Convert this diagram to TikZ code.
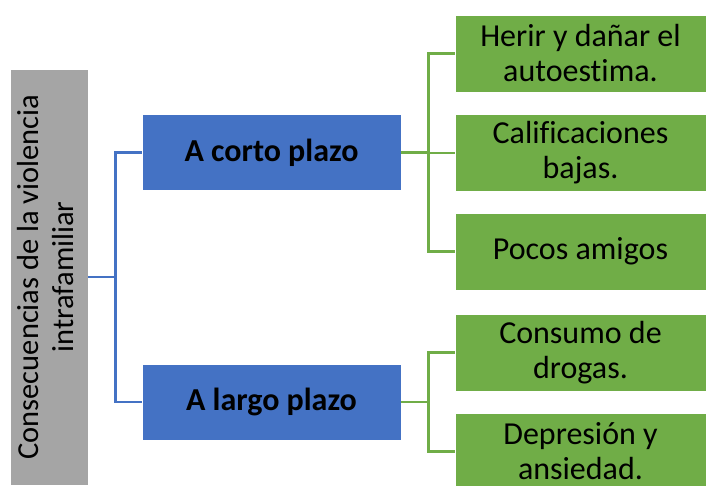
\documentclass[tikz,border=0pt]{standalone}
\usepackage{fontspec}
\setmainfont[Ligatures=NoCommon]{Carlito}
\usepackage{xcolor}
\usepackage{tikz}
\usetikzlibrary{calc}
\definecolor{boxgray}{HTML}{A5A5A5}
\definecolor{boxblue}{HTML}{4472C4}
\definecolor{boxgreen}{HTML}{70AD47}
\tikzset{
  causebox/.style={fill=boxgray, draw=white, line width=.8pt, minimum width=78pt, minimum height=416pt, inner sep=0pt, align=center, font=\fontsize{30.5}{35}\selectfont},
  termbox/.style={fill=boxblue, draw=white, line width=.8pt, minimum width=259pt, minimum height=76pt, inner sep=0pt, font=\fontsize{32}{35}\selectfont\bfseries},
  effectbox/.style={fill=boxgreen, draw=white, line width=.8pt, minimum width=251pt, minimum height=77pt, inner sep=0pt, align=center, font=\fontsize{32}{35}\selectfont},
  blueline/.style={boxblue, line width=2.3pt},
  greenline/.style={boxgreen, line width=2.3pt}
}

\begin{document}
\begin{tikzpicture}[x=1pt, y=-1pt]
\useasboundingbox (0,0) rectangle (706,485);

\node[causebox] (cause) at (49,277) {\rotatebox{90}{\begin{tabular}{@{}c@{}}Consecuencias de la violencia\\intrafamiliar\end{tabular}}};

\node[termbox] (corto) at (271.5,152.5) {A corto plazo};
\node[termbox] (largo) at (271.5,402) {A largo plazo};

\foreach \name/\y/\txt in {herir/53.5/{Herir y dañar el\\autoestima.}, notas/153/{Calificaciones\\bajas.}, amigos/251.5/{Pocos amigos}, drogas/352.5/{Consumo de\\drogas.}, depresion/451.5/{Depresión y\\ansiedad.}} {
  \node[effectbox] (\name) at (580.5,\y) {\txt};
}

% blue branches
\draw[blueline] (cause.east) -- ++(27,0) coordinate (bsplit);
\draw[blueline] (bsplit) |- (corto.west);
\draw[blueline] (bsplit) |- (largo.west);

% green branches
\draw[greenline] (corto.east) -- ++(27,0) coordinate (csplit);
\draw[greenline] (csplit) |- (herir.west);
\draw[greenline] (csplit) |- (notas.west);
\draw[greenline] (csplit) |- (amigos.west);
\draw[greenline] (largo.east) -- ++(27,0) coordinate (lsplit);
\draw[greenline] (lsplit) |- (drogas.west);
\draw[greenline] (lsplit) |- (depresion.west);
\end{tikzpicture}
\end{document}
